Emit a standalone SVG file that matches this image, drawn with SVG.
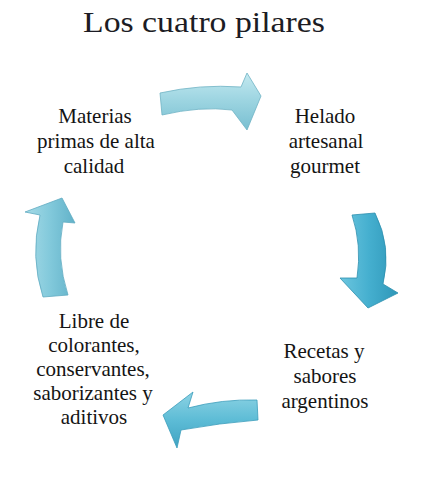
<svg xmlns="http://www.w3.org/2000/svg" width="431" height="498" viewBox="0 0 431 498">
<style>
  .t { font-family: 'Liberation Serif', 'DejaVu Serif', serif; font-size: 21px; fill: #141414; text-anchor: middle; }
  .title { font-family: 'Liberation Serif', 'DejaVu Serif', serif; font-size: 30px; fill: #1c1c24; text-anchor: middle; }
  .arr { stroke-width: 0.8; stroke-linejoin: round; }
</style>
<defs>
  <linearGradient id="gTop" x1="0" y1="0" x2="0" y2="1">
    <stop offset="0" stop-color="#c4e9f0"/>
    <stop offset="0.45" stop-color="#9fd6e2"/>
    <stop offset="1" stop-color="#78bfd1"/>
  </linearGradient>
  <linearGradient id="gRight" x1="0" y1="0" x2="1" y2="0">
    <stop offset="0" stop-color="#6cc6df"/>
    <stop offset="0.5" stop-color="#45afcf"/>
    <stop offset="1" stop-color="#2f97b8"/>
  </linearGradient>
  <linearGradient id="gBottom" x1="0" y1="0" x2="0" y2="1">
    <stop offset="0" stop-color="#8dd3e4"/>
    <stop offset="0.5" stop-color="#5dbcd6"/>
    <stop offset="1" stop-color="#3fa3c2"/>
  </linearGradient>
  <linearGradient id="gLeft" x1="0" y1="0" x2="1" y2="0">
    <stop offset="0" stop-color="#a6dbe7"/>
    <stop offset="0.5" stop-color="#82c9db"/>
    <stop offset="1" stop-color="#62b2c9"/>
  </linearGradient>
</defs>
<rect width="431" height="498" fill="#ffffff"/>
<g id="title">
  <text class="title" font-family="Liberation Serif, DejaVu Serif, serif" x="204" y="32" textLength="242" lengthAdjust="spacingAndGlyphs">Los cuatro pilares</text>
</g>
<g id="connectors">
  <path id="arrow-top" class="arr" fill="url(#gTop)" stroke="#6fb3c4" d="M160,93 Q200,84 241,87 L247,73 L261,96 L247,130 L232,110 Q200,106 162,115 Z"/>
  <path id="arrow-right" class="arr" fill="url(#gRight)" stroke="#2d8fae" d="M352,215 L375,213 Q392,247 383,284 L398,293 L368,308 L340,278 L357,278 Q362,245 352,215 Z"/>
  <path id="arrow-bottom" class="arr" fill="url(#gBottom)" stroke="#3b9dbb" d="M257,400 Q222,399 188,408 L193,392 L163,415 L177,448 L181,430 Q220,423 258,420 Z"/>
  <path id="arrow-left" class="arr" fill="url(#gLeft)" stroke="#5fabc1" d="M62,198 L75,223 L63,222 Q56,258 68,295 L43,297 Q30,257 40,215 L25,212 Z"/>
</g>
<g id="node-materias" font-family="Liberation Serif, DejaVu Serif, serif">
  <text class="t" x="95" y="123">Materias</text>
  <text class="t" x="96" y="148">primas de alta</text>
  <text class="t" x="94" y="173">calidad</text>
</g>
<g id="node-helado" font-family="Liberation Serif, DejaVu Serif, serif">
  <text class="t" x="325" y="123">Helado</text>
  <text class="t" x="326" y="148">artesanal</text>
  <text class="t" x="325" y="173">gourmet</text>
</g>
<g id="node-recetas" font-family="Liberation Serif, DejaVu Serif, serif">
  <text class="t" x="324" y="358">Recetas y</text>
  <text class="t" x="325" y="383">sabores</text>
  <text class="t" x="325" y="408">argentinos</text>
</g>
<g id="node-libre" font-family="Liberation Serif, DejaVu Serif, serif">
  <text class="t" x="94" y="328">Libre de</text>
  <text class="t" x="94" y="352">colorantes,</text>
  <text class="t" x="93" y="376">conservantes,</text>
  <text class="t" x="93" y="400">saborizantes y</text>
  <text class="t" x="94" y="424">aditivos</text>
</g>
</svg>
